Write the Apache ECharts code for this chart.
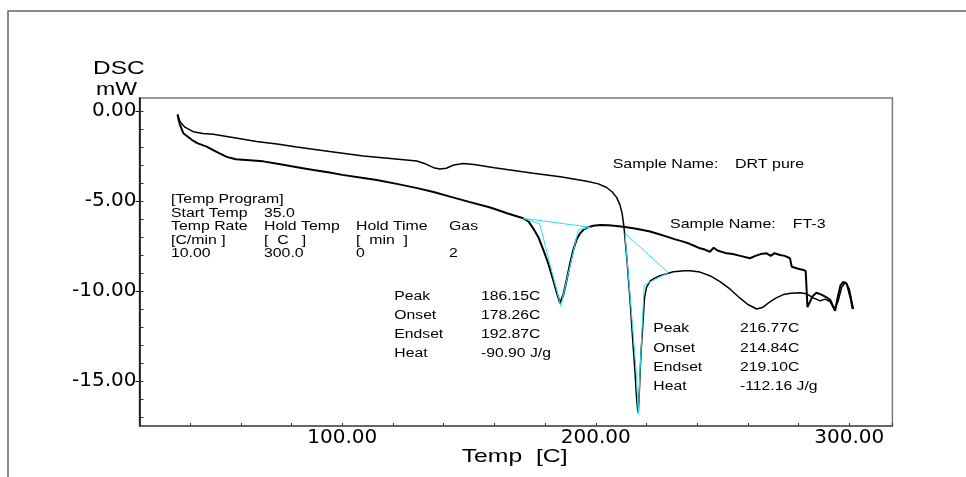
<!DOCTYPE html>
<html>
<head>
<meta charset="utf-8">
<script src="https://cdn.jsdelivr.net/npm/echarts@6/dist/echarts.min.js"></script>
<style>
  html, body { margin: 0; padding: 0; background: #fff; }
  #chart { width: 966px; height: 477px; }
</style>
</head>
<body>
<div id="chart"></div>
<script>
// DSC curves, [temp C, mW]
const drtPure = [
  [35.0, -0.2], [36.0, -0.6], [37.9, -0.9], [41.2, -1.15], [45, -1.25], [49.1, -1.3],
  [58, -1.5], [66.2, -1.7], [75, -1.85], [82, -2.0], [95, -2.25], [108.3, -2.5],
  [120, -2.65], [129.4, -2.78], [133, -2.95], [136, -3.15], [138.5, -3.22], [141, -3.18],
  [144, -3.0], [147.7, -2.92], [152, -2.98], [160, -3.15], [175.3, -3.46], [186, -3.65],
  [196.4, -3.9], [201, -4.05], [204.3, -4.25], [206.5, -4.5], [208.2, -4.8], [209.5, -5.2],
  [210.4, -5.7], [211.1, -6.43], [212.3, -8.3], [213.5, -10.5], [214.5, -12.6], [215.5, -14.6],
  [216.0, -15.8], [216.5, -16.6], [216.77, -16.75], [217.2, -15.5], [217.8, -13.5], [218.5, -12.0],
  [219.2, -10.4], [220, -9.8], [221.4, -9.45], [223, -9.3], [225.3, -9.15], [230.6, -8.93],
  [235, -8.87], [237.2, -8.88], [241.1, -8.95], [245, -9.15], [249, -9.48], [253, -9.9],
  [256.9, -10.4], [260, -10.75], [263.5, -11.0], [266, -10.9], [268.7, -10.6], [271, -10.4],
  [274, -10.2], [277, -10.12], [280.6, -10.1], [283, -10.15], [286, -10.4], [288.5, -10.55],
  [290.5, -10.45], [292.5, -10.6], [294, -11.0], [295.5, -10.6], [297, -9.8], [298.5, -9.5],
  [300, -9.9], [301.6, -11.0]
];

const ft3 = [
  [35.0, -0.2], [35.8, -0.7], [37.3, -1.24], [40.6, -1.6], [43, -1.8], [46.5, -1.98],
  [50, -2.25], [54.4, -2.55], [58, -2.68], [62, -2.72], [68.8, -2.8], [75, -2.95],
  [83.3, -3.15], [88.6, -3.28], [95, -3.42], [100, -3.55], [108.3, -3.72], [113.6, -3.83],
  [121.5, -4.05], [130, -4.3], [136, -4.5], [142.5, -4.76], [150, -5.05], [158, -5.35],
  [161.3, -5.5], [165, -5.68], [168.8, -5.85], [171.4, -5.96], [173.5, -6.15], [175.3, -6.52],
  [177.3, -7.0], [179.3, -7.72], [181.3, -8.5], [183.2, -9.39], [184.6, -10.1], [185.9, -10.68],
  [186.15, -10.72], [187.2, -10.2], [188.5, -9.39], [189.8, -8.5], [191.1, -7.72], [192.4, -7.15],
  [193.8, -6.8], [195.3, -6.58], [197, -6.46], [199, -6.38], [201.7, -6.33], [205, -6.35],
  [208.2, -6.39], [211.5, -6.45], [214.8, -6.52], [218, -6.6], [221.4, -6.7], [225, -6.85],
  [228, -6.98], [231, -7.12], [234.5, -7.26], [237, -7.38], [239, -7.5], [241.1, -7.63],
  [243, -7.7], [245, -7.82], [246.5, -7.6], [248, -7.75], [251.6, -7.91], [254, -7.95],
  [257, -8.05], [260.8, -8.18], [263, -8.05], [265, -7.95], [267.4, -7.91], [269, -8.05],
  [270.5, -7.9], [272.7, -8.0], [274.5, -8.05], [276.6, -8.18], [277.3, -8.65], [279.5, -8.75],
  [281.9, -8.83], [282.8, -8.9], [283.5, -10.9], [284.2, -10.95], [285.5, -10.3], [287, -10.1],
  [289, -10.2], [291, -10.35], [292.5, -10.5], [294.4, -11.1], [295.5, -10.3], [296.5, -9.7],
  [297.6, -9.5], [299, -9.6], [300.5, -10.4], [301.3, -11.0]
];

// peak analysis construction lines (cyan)
const peak1Baseline = [[171.4, -5.96], [197.7, -6.46]];
const peak1Tangent = [[171.4, -5.96], [177.9, -6.28], [186.15, -10.85], [193.1, -6.61], [197.7, -6.46]];
const peak2Baseline = [[211.5, -6.8], [228.6, -8.98]];
const peak2Tangent = [[211.5, -6.8], [215.9, -14.4], [216.77, -16.85], [217.4, -14.6], [219.1, -9.67], [228.6, -8.98]];

const xTickLabels = [100, 200, 300];
const yTickLabels = [0, -5, -10, -15];

const peakNames = ['Peak', 'Onset', 'Endset', 'Heat'];
const peak1Values = ['186.15C', '178.26C', '192.87C', '-90.90 J/g'];
const peak2Values = ['216.77C', '214.84C', '219.10C', '-112.16 J/g'];

const programRows = [
  ['[Temp Program]', '', '', ''],
  ['Start Temp', '35.0', '', ''],
  ['Temp Rate', 'Hold Temp', 'Hold Time', 'Gas'],
  ['[C/min ]', '[  C   ]', '[  min  ]', ''],
  ['10.00', '300.0', '0', '2']
];

const FONT = '"Liberation Sans", Arial, sans-serif';

function txt(str, x, y, size, sx) {
  return {
    type: 'text', x: x, y: y, scaleX: sx, z: 100,
    style: { text: str, fontSize: size, fontFamily: FONT, fill: '#000', verticalAlign: 'middle' }
  };
}

const graphics = [
  // outer frame
  { type: 'rect', shape: { x: 8, y: 11, width: 1100, height: 600 },
    style: { fill: 'none', stroke: '#666', lineWidth: 1.5 } },
  txt('DSC', 93, 68.5, 18.5, 1.32),
  txt('mW', 96, 89.5, 18.5, 1.25),
  txt('Temp  [C]', 461.7, 456.7, 18.6, 1.33),
  txt('Sample Name:', 612.7, 164, 13, 1.23),
  txt('DRT pure', 735, 164, 13, 1.23),
  txt('Sample Name:', 670, 224, 13, 1.23),
  txt('FT-3', 792.7, 224, 13, 1.23)
];

const progCols = [171, 264, 356, 449];
const progRowsY = [200, 213.5, 227, 240.5, 254];
programRows.forEach(function (row, r) {
  row.forEach(function (s, c) {
    if (s) graphics.push(txt(s, progCols[c], progRowsY[r], 12, 1.32));
  });
});

const peak1Y = [296.7, 315.7, 334.5, 353.3];
const peak2Y = [329, 348.3, 367.3, 386.7];
peakNames.forEach(function (n, i) {
  graphics.push(txt(n, 394.3, peak1Y[i], 12, 1.31));
  graphics.push(txt(peak1Values[i], 481, peak1Y[i], 12, 1.31));
  graphics.push(txt(n, 653.3, peak2Y[i], 12, 1.31));
  graphics.push(txt(peak2Values[i], 740, peak2Y[i], 12, 1.31));
});

const chart = echarts.init(document.getElementById('chart'));

const blackLine = function (name, data, w) {
  return {
    name: name, type: 'line', data: data, showSymbol: false, symbol: 'none',
    xAxisIndex: 0, yAxisIndex: 0, animation: false,
    lineStyle: { color: '#000', width: w }
  };
};
const cyanLine = function (data) {
  return {
    type: 'line', data: data, showSymbol: false, symbol: 'none',
    xAxisIndex: 0, yAxisIndex: 0, animation: false, z: 3,
    lineStyle: { color: '#22e6ee', width: 1 }
  };
};

chart.setOption({
  backgroundColor: '#fff',
  animation: false,
  grid: [
    { left: 139.5, top: 98, width: 752.9, height: 328, show: true, borderColor: '#7a7a7a', borderWidth: 1.5 },
    { left: 139.5, top: 111, width: 752.9, height: 270 },
    { left: 139.5, top: 111, width: 752.9, height: 306 }
  ],
  xAxis: [
    {
      gridIndex: 0, type: 'value', min: 20, max: 317, interval: 20,
      axisLine: { onZero: false, lineStyle: { color: '#555', width: 1.5 } },
      axisTick: { inside: true, length: 3, lineStyle: { color: '#333' } },
      axisLabel: {
        margin: 2, fontSize: 20, color: '#000', fontFamily: '"DejaVu Sans"',
        formatter: function (v) { return xTickLabels.indexOf(v) >= 0 ? v.toFixed(2) : ''; }
      },
      splitLine: { show: false }
    },
    { gridIndex: 1, type: 'value', min: 20, max: 317, show: false },
    { gridIndex: 2, type: 'value', min: 20, max: 317, show: false }
  ],
  yAxis: [
    {
      gridIndex: 0, type: 'value', min: -17.5, max: 0.72,
      axisLine: { show: true, onZero: false, lineStyle: { color: '#000', width: 1.5 } },
      axisTick: { show: false }, axisLabel: { show: false }, splitLine: { show: false }
    },
    {
      gridIndex: 1, type: 'value', min: -15, max: 0, interval: 5,
      axisLine: { show: false, onZero: false },
      axisTick: { show: true, inside: false, length: 4, lineStyle: { color: '#000' } },
      axisLabel: {
        margin: 3, fontSize: 20, color: '#000', fontFamily: '"DejaVu Sans"',
        formatter: function (v) { return yTickLabels.indexOf(v) >= 0 ? v.toFixed(2) : ''; }
      },
      splitLine: { show: false }
    },
    {
      gridIndex: 2, type: 'value', min: -17, max: 0, interval: 1,
      axisLine: { show: false, onZero: false },
      axisTick: { show: true, inside: true, length: 4, lineStyle: { color: '#333' } },
      axisLabel: { show: false }, splitLine: { show: false }
    }
  ],
  series: [
    blackLine('DRT pure', drtPure, 1.5),
    blackLine('FT-3', ft3, 2),
    cyanLine(peak1Baseline),
    cyanLine(peak1Tangent),
    cyanLine(peak2Baseline),
    cyanLine(peak2Tangent)
  ],
  graphic: graphics
});
</script>
</body>
</html>
